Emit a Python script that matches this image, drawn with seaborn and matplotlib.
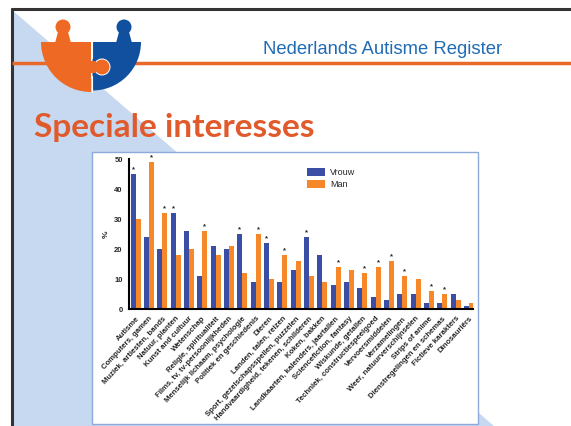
import matplotlib
matplotlib.use("Agg")
import matplotlib.pyplot as plt
from matplotlib.patches import Polygon, Rectangle, Wedge, Circle
import seaborn as sns
import pandas as pd

# data
categories = ["Autisme", "Computers, gamen", "Muziek, artiesten, bands", "Natuur, planten",
              "Kunst and cultuur", "Wetenschap", "Religie, spiritualiteit",
              "Films, tv, tv-persoonlijkheden", "Menselijk lichaam, psychologie",
              "Politiek en geschiedenis", "Dieren", "Landen, talen, reizen",
              "Sport, gezelschapsspellen, puzzelen", "Handvaardigheid, tekenen, schilderen",
              "Koken, bakken", "Landkaarten, kalenders, jaartallen", "Sciencefiction, fantasy",
              "Wiskunde, getallen", "Techniek, constructiespeelgoed", "Vervoersmiddelen",
              "Verzamelingen", "Weer, natuurverschijnselen", "Strips of anime",
              "Dienstregelingen en schemas", "Fictieve karakters", "Dinosauriërs"]
vrouw = [45, 24, 20, 32, 26, 11, 21, 20, 25, 9, 22, 9, 13, 24, 18, 8, 9, 7, 4, 3, 5, 5, 2, 2, 5, 1]
man = [30, 49, 32, 18, 20, 26, 18, 21, 12, 25, 10, 18, 16, 11, 9, 14, 13, 12, 14, 16, 11, 10, 6, 5, 3, 2]
sig_vrouw = [0, 3, 8, 10, 13]
sig_man = [1, 2, 5, 9, 11, 15, 17, 18, 19, 20, 22, 23]
yticks = [0, 10, 20, 30, 40, 50]

df = pd.DataFrame({"interesse": categories * 2,
                   "geslacht": ["Vrouw"] * len(categories) + ["Man"] * len(categories),
                   "pct": vrouw + man})

sns.set_style("white")
plt.rcParams['font.family'] = ['Liberation Sans', 'DejaVu Sans']

W, H = 571, 426
fig = plt.figure(figsize=(W / 100, H / 100), dpi=100)

# slide background, drawn in pixel coordinates
bg = fig.add_axes([0, 0, 1, 1])
bg.set_xlim(0, W)
bg.set_ylim(H, 0)
bg.axis("off")
bg.add_patch(Polygon([(12, 10), (12, H), (494, H)], closed=True, color="#c6d9f1", lw=0))
bg.plot([11, W], [9, 9], color="#333333", lw=2.2, solid_capstyle="butt")
bg.plot([12, 12], [8, H], color="#333333", lw=2.2, solid_capstyle="butt")
bg.plot([12, W], [63, 63], color="#e8692a", lw=2.5, solid_capstyle="butt")

# logo: two puzzle pieces
org, blu = "#ee6a24", "#10509f"
logo = [Wedge((91, 42), 50, 90, 180, color=org, lw=0),
        Wedge((92.5, 42), 48.5, 0, 90, color=blu, lw=0),
        Circle((63, 27), 7.5, color=org, lw=0),
        Polygon([(58, 32), (68, 32), (71, 43), (55, 43)], color=org, lw=0),
        Circle((124, 27), 7.5, color=blu, lw=0),
        Polygon([(119, 32), (129, 32), (132, 43), (116, 43)], color=blu, lw=0),
        Circle((102, 67), 8.5, color="white", lw=0),
        Circle((102, 67), 7.5, color=org, lw=0),
        Rectangle((90, 61), 6, 12, color=org, lw=0)]
for p in logo:
    p.set_zorder(3)
    bg.add_patch(p)
bg.plot([92, 92], [42, 58], color="white", lw=0.8, zorder=4)
bg.plot([92, 92], [76, 92], color="white", lw=0.8, zorder=4)

bg.text(263, 50, "Nederlands Autisme Register", color="#1f6cb4", fontsize=13.3,
        va="center", ha="left")
bg.text(34, 137, "Speciale interesses", color="#e05a2b", fontsize=24, fontweight="bold",
        va="baseline", ha="left", family=["Lato", "DejaVu Sans"])

# chart picture frame
bg.add_patch(Rectangle((92, 152), 386, 272, facecolor="white", edgecolor="#8eaadb", lw=1))

# bar chart
ax = fig.add_axes([129 / W, 1 - 309 / H, 344 / W, 149.7 / H])
ax.patch.set_alpha(0)
sns.barplot(data=df, x="interesse", y="pct", hue="geslacht", ax=ax,
            palette={"Vrouw": "#3a4ea6", "Man": "#f7882a"}, width=0.75,
            saturation=1, edgecolor="none")
ax.set_ylim(0, 50)
ax.set_xlim(-0.5, 25.3)
ax.set_yticks(yticks)
ax.set_yticklabels([str(t) for t in yticks], fontsize=5.5, fontweight="bold")
ax.set_xticks(range(len(categories)))
ax.set_xticklabels(categories, rotation=47, ha="right", rotation_mode="anchor",
                   fontsize=5.6, fontweight="bold")
ax.set_xlabel("")
ax.set_ylabel("%", fontsize=6, fontweight="bold", labelpad=3)
sns.despine(ax=ax)
for s in ["left", "bottom"]:
    ax.spines[s].set_linewidth(1.5)
    ax.spines[s].set_color("black")
ax.tick_params(axis="both", direction="out", length=3, width=1, pad=1.5, color="black")

for idx_list, cont in [(sig_vrouw, ax.containers[0]), (sig_man, ax.containers[1])]:
    for i in idx_list:
        bar = cont.patches[i]
        ax.text(bar.get_x() + bar.get_width() / 2, bar.get_height() + 0.4, "*",
                ha="center", va="bottom", fontsize=5.5, fontweight="bold", clip_on=False)

leg = ax.legend(loc="upper left", bbox_to_anchor=(302 / W, 1 - 163 / H),
                bbox_transform=fig.transFigure, frameon=False, fontsize=6.5,
                handlelength=2.0, handleheight=1.1, borderpad=0, labelspacing=0.3,
                handletextpad=0.6)

fig.savefig("out.png", dpi=100)
